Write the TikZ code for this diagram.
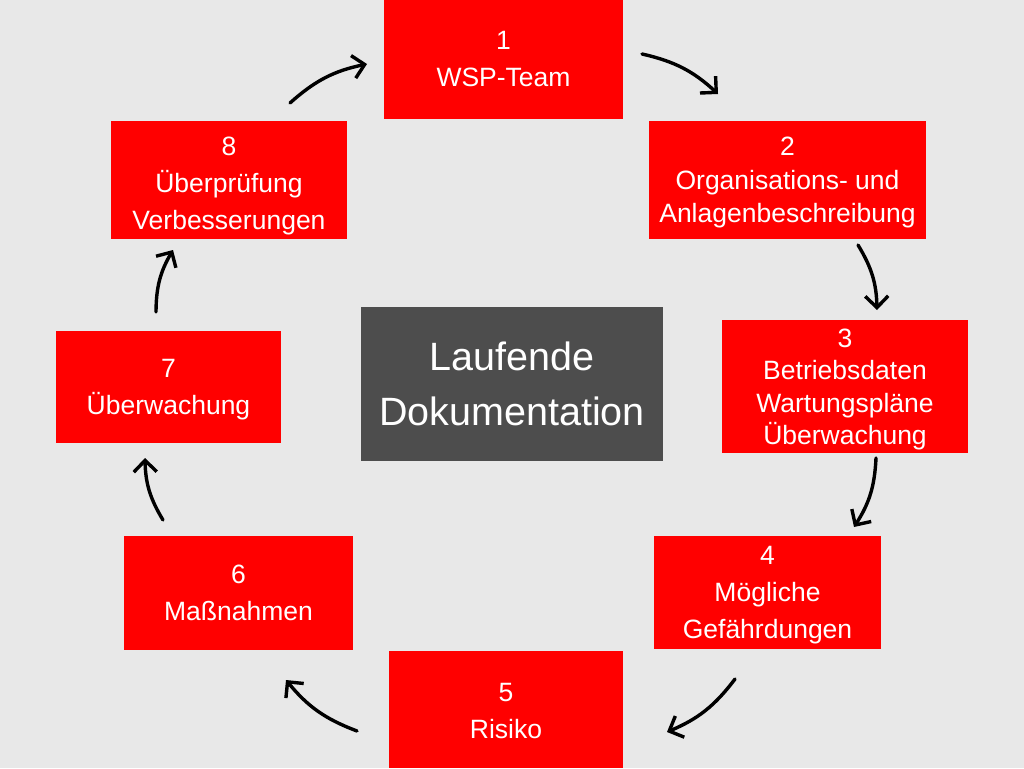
\documentclass[tikz,border=0pt]{standalone}
\usepackage{fontspec}
\setmainfont{Liberation Sans}
\usetikzlibrary{positioning,arrows.meta}

\definecolor{bggray}{HTML}{E8E8E8}
\definecolor{boxred}{HTML}{FF0000}
\definecolor{midgray}{HTML}{4D4D4D}

\tikzset{
  stepbox/.style={fill=boxred, inner sep=0pt},
  steptext/.style={text=white, align=center, inner sep=0pt,
    font=\fontsize{26.5}{37}\selectfont},
  docbox/.style={fill=midgray, text=white, align=center, inner sep=0pt,
    font=\fontsize{39.5}{55}\selectfont},
  cyc/.style={-{Straight Barb[length=11.5pt,width=23pt]}, line width=3.4pt,
    line cap=round, line join=round, bend left=15}
}

\begin{document}
\begin{tikzpicture}[x=1pt,y=-1pt]
\fill[bggray] (0,0) rectangle (1024,768);
\useasboundingbox (0,0) rectangle (1024,768);
% steps of the cycle
\node[stepbox, minimum width=239pt, minimum height=119pt,
  label={[steptext]center:{1\\WSP-Team}}] (s1) at (503.5,59.5) {};
\node[stepbox, minimum width=277pt, minimum height=118pt,
  label={[steptext, yshift=-2.5pt, font=\fontsize{26.5}{33.5}\selectfont]center:{2\\ Organisations- und\\Anlagenbeschreibung}}] (s2) at (787.5,180) {};
\node[stepbox, minimum width=246pt, minimum height=133pt,
  label={[steptext, yshift=-3pt, font=\fontsize{26.5}{32.3}\selectfont]center:{3\\Betriebsdaten\\Wartungspläne\\Überwachung}}] (s3) at (845,386.5) {};
\node[stepbox, minimum width=227pt, minimum height=113pt,
  label={[steptext, yshift=-3pt]center:{4\\Mögliche\\Gefährdungen}}] (s4) at (767.5,592.5) {};
\node[stepbox, minimum width=234pt, minimum height=117pt,
  label={[steptext, yshift=-1.5pt]center:{5\\Risiko}}] (s5) at (506,709.5) {};
\node[stepbox, minimum width=229pt, minimum height=114pt,
  label={[steptext]center:{6\\Maßnahmen}}] (s6) at (238.5,593) {};
\node[stepbox, minimum width=225pt, minimum height=112pt,
  label={[steptext, yshift=-3pt]center:{7\\Überwachung}}] (s7) at (168.5,387) {};
\node[stepbox, minimum width=236pt, minimum height=118pt,
  label={[steptext, yshift=-6pt]center:{8\\Überprüfung\\Verbesserungen}}] (s8) at (229,180) {};
% middle
\node[docbox, minimum width=302pt, minimum height=154pt] (doc) at (512,384) {Laufende\\Dokumentation};
% arrow ends
\coordinate (a1) at (642,54);   \coordinate (b1) at (718,94);
\coordinate (a2) at (858,245);  \coordinate (b2) at (877,310);
\coordinate (a3) at (876,458);  \coordinate (b3) at (854,527);
\coordinate (a4) at (735,679);  \coordinate (b4) at (667,732);
\coordinate (a5) at (357,731);  \coordinate (b5) at (286,680);
\coordinate (a6) at (163,520);  \coordinate (b6) at (145,458);
\coordinate (a7) at (156,312);  \coordinate (b7) at (173,250);
\coordinate (a8) at (290,103);  \coordinate (b8) at (367,64);
\foreach \i in {1,...,8}
  \draw[cyc] (a\i) to (b\i);
\end{tikzpicture}
\end{document}
